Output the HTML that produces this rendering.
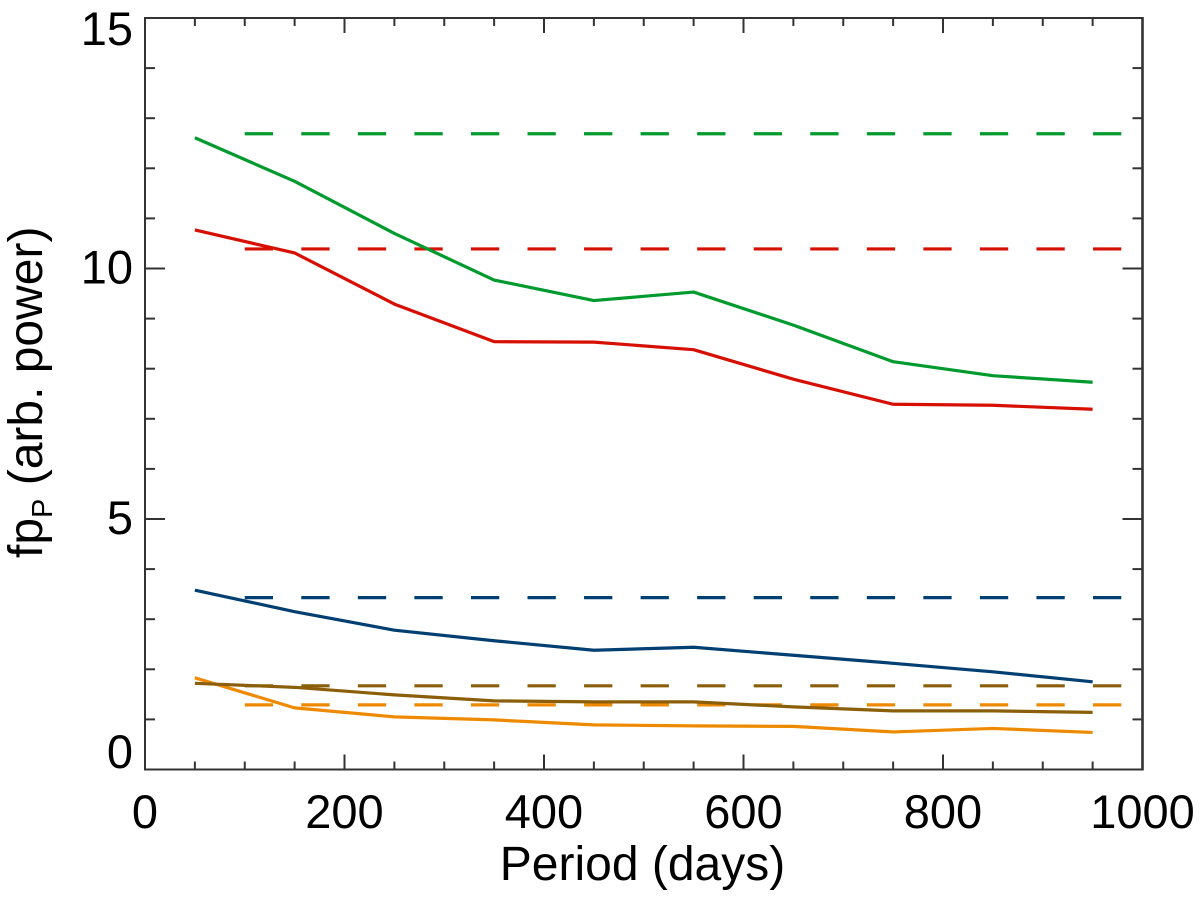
<!DOCTYPE html>
<html>
<head>
<meta charset="utf-8">
<title>Period power chart</title>
<style>
html,body{margin:0;padding:0;background:#fff;}
svg{display:block;}
text{font-family:"Liberation Sans",Arial,sans-serif;fill:#000;}
</style>
</head>
<body>
<svg id="chart" width="1200" height="901" viewBox="0 0 1200 901" xmlns="http://www.w3.org/2000/svg">
  <rect x="0" y="0" width="1200" height="901" fill="#ffffff"/>
  <g id="series-layer"></g>
  <g id="axis-layer"></g>
  <text x="642.5" y="880" font-size="48" text-anchor="middle">Period (days)</text>
  <text transform="translate(42 558) rotate(-90)" font-size="48">fp<tspan font-size="29" dy="10">P</tspan><tspan dy="-10"> (arb. power)</tspan></text>
</svg>
<script>
const periods = [50, 150, 250, 350, 450, 550, 650, 750, 850, 950];
const greenValues = [12.61, 11.74, 10.70, 9.77, 9.36, 9.53, 8.87, 8.14, 7.86, 7.73];
const redValues = [10.77, 10.31, 9.29, 8.54, 8.53, 8.38, 7.79, 7.29, 7.27, 7.19];
const blueValues = [3.58, 3.15, 2.78, 2.57, 2.38, 2.44, 2.28, 2.12, 1.95, 1.75];
const brownValues = [1.72, 1.64, 1.49, 1.37, 1.35, 1.35, 1.25, 1.17, 1.17, 1.14];
const orangeValues = [1.83, 1.23, 1.05, 0.99, 0.89, 0.87, 0.86, 0.75, 0.82, 0.74];
const thresholdGreen = 12.69;
const thresholdRed = 10.39;
const thresholdBlue = 3.43;
const thresholdBrown = 1.67;
const thresholdOrange = 1.29;
const thresholdStart = 100;
const thresholdEnd = 980;
const xTickLabels = [0, 200, 400, 600, 800, 1000];
const yTickLabels = [0, 5, 10, 15];
const xDomain = [0, 1000];
const yDomain = [0, 15];

const NS = 'http://www.w3.org/2000/svg';
const PLOT = {left: 145, right: 1142.5, top: 18, bottom: 769.5};
function xScale(v) {
  return PLOT.left + (v - xDomain[0]) / (xDomain[1] - xDomain[0]) * (PLOT.right - PLOT.left);
}
function yScale(v) {
  return PLOT.bottom - (v - yDomain[0]) / (yDomain[1] - yDomain[0]) * (PLOT.bottom - PLOT.top);
}
const seriesLayer = document.getElementById('series-layer');
const axisLayer = document.getElementById('axis-layer');

function makeLine(x1, y1, x2, y2, color, width) {
  const el = document.createElementNS(NS, 'line');
  el.setAttribute('x1', x1);
  el.setAttribute('y1', y1);
  el.setAttribute('x2', x2);
  el.setAttribute('y2', y2);
  el.setAttribute('stroke', color);
  el.setAttribute('stroke-width', width);
  return el;
}

function drawSeries(values, color, name) {
  const el = document.createElementNS(NS, 'polyline');
  el.setAttribute('points', values.map(function (v, i) {
    return xScale(periods[i]).toFixed(2) + ',' + yScale(v).toFixed(2);
  }).join(' '));
  el.setAttribute('fill', 'none');
  el.setAttribute('stroke', color);
  el.setAttribute('stroke-width', '3.2');
  el.setAttribute('stroke-linejoin', 'round');
  
  
  seriesLayer.appendChild(el);
}

function drawThreshold(value, color, name) {
  const el = makeLine(xScale(thresholdStart), yScale(value), xScale(thresholdEnd), yScale(value), color, 3.2);
  el.setAttribute('stroke-dasharray', '28.3 28.25');
  
  
  seriesLayer.appendChild(el);
}

drawThreshold(thresholdOrange, '#ee8a00', 'threshold-orange');
drawThreshold(thresholdBrown, '#8b5f0a', 'threshold-brown');
drawThreshold(thresholdBlue, '#003f72', 'threshold-blue');
drawThreshold(thresholdRed, '#d60f00', 'threshold-red');
drawThreshold(thresholdGreen, '#009a2e', 'threshold-green');
drawSeries(orangeValues, '#ee8a00', 'series-orange');
drawSeries(brownValues, '#8b5f0a', 'series-brown');
drawSeries(blueValues, '#003f72', 'series-blue');
drawSeries(redValues, '#d60f00', 'series-red');
drawSeries(greenValues, '#009a2e', 'series-green');

const axisColor = '#333333';
function addAxisLine(x1, y1, x2, y2, width, name) {
  const el = makeLine(x1, y1, x2, y2, axisColor, width);
  
  
  axisLayer.appendChild(el);
}
addAxisLine(PLOT.left, PLOT.top - 1, PLOT.left, PLOT.bottom + 1, 2, 'axis-left');
addAxisLine(PLOT.right, PLOT.top - 1, PLOT.right, PLOT.bottom + 1, 2.6, 'axis-right');
addAxisLine(PLOT.left, PLOT.top, PLOT.right, PLOT.top, 2, 'axis-top');
addAxisLine(PLOT.left, PLOT.bottom, PLOT.right, PLOT.bottom, 2, 'axis-bottom');

for (let d = xDomain[0]; d <= xDomain[1]; d += 50) {
  const major = d % 200 === 0;
  const len = major ? 15 : 8;
  const x = xScale(d);
  addAxisLine(x, PLOT.bottom, x, PLOT.bottom - len, 2, 'x-tick-bottom');
  addAxisLine(x, PLOT.top, x, PLOT.top + len, 2, 'x-tick-top');
}
for (let u = yDomain[0]; u <= yDomain[1]; u += 1) {
  const major = u % 5 === 0;
  const len = major ? 20 : 10;
  const y = yScale(u);
  addAxisLine(PLOT.left, y, PLOT.left + len, y, 2, 'y-tick-left');
  addAxisLine(PLOT.right, y, PLOT.right - len, y, 2, 'y-tick-right');
}

xTickLabels.forEach(function (v) {
  const t = document.createElementNS(NS, 'text');
  t.setAttribute('x', xScale(v));
  t.setAttribute('y', 828);
  t.setAttribute('font-size', '47');
  t.setAttribute('text-anchor', 'middle');
  
  
  t.textContent = String(v);
  axisLayer.appendChild(t);
});
yTickLabels.forEach(function (v) {
  const t = document.createElementNS(NS, 'text');
  t.setAttribute('x', 133);
  t.setAttribute('y', v === 0 ? 768 : v === 15 ? 45 : yScale(v) + 15);
  t.setAttribute('font-size', '47');
  t.setAttribute('text-anchor', 'end');
  
  
  t.textContent = String(v);
  axisLayer.appendChild(t);
});
</script>
</body>
</html>
